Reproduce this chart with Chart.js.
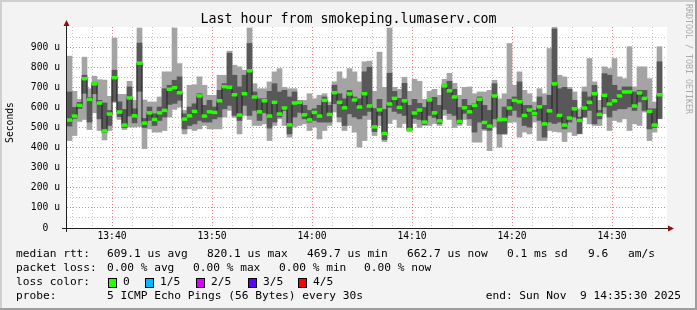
<!DOCTYPE html>
<html lang="en">
<head>
<meta charset="UTF-8">
<title>Last hour from smokeping.lumaserv.com</title>
<style>
  html, body { margin: 0; padding: 0; background: #f3f3f3; }
  canvas { display: block; }
</style>
</head>
<body>
<canvas id="chart" width="697" height="310"></canvas>
<script src="https://cdn.jsdelivr.net/npm/chart.js"></script>
<script>
// one entry per 30s step, starting at 13:35:30; 5 pings per step, values in microseconds
const startLabel = '13:35:30';
const stepMinutes = 0.5;

const median = [
  537, 557, 610, 743, 640, 717, 622, 483, 567, 748,
  577, 512, 647, 558, 820, 522, 573, 540, 573, 585,
  690, 698, 673, 542, 558, 580, 657, 557, 578, 575,
  633, 703, 700, 663, 562, 668, 782, 652, 578, 633,
  557, 625, 567, 597, 513, 622, 625, 563, 538, 575,
  557, 635, 565, 673, 625, 598, 667, 637, 602, 668,
  607, 503, 588, 470, 617, 645, 600, 633, 490, 572,
  587, 527, 637, 573, 533, 707, 683, 652, 530, 598,
  578, 610, 640, 525, 507, 657, 538, 540, 597, 635,
  628, 560, 587, 570, 603, 518, 583, 717, 560, 512,
  547, 593, 535, 597, 625, 668, 565, 660, 617, 633,
  657, 677, 677, 607, 672, 645, 580, 512, 663
];

// outer smoke: lowest and highest ping
const pingMin = [
  435, 460, 530, 540, 490, 573, 485, 438, 485, 625,
  540, 490, 502, 502, 505, 395, 493, 477, 477, 485,
  552, 590, 602, 468, 493, 485, 493, 510, 493, 493,
  493, 552, 585, 550, 468, 560, 540, 510, 510, 518,
  435, 510, 543, 510, 452, 502, 510, 518, 485, 502,
  443, 485, 510, 577, 527, 485, 510, 477, 402, 435,
  540, 460, 510, 430, 520, 540, 500, 520, 480, 520,
  500, 510, 510, 520, 510, 560, 540, 500, 510, 540,
  510, 427, 427, 485, 385, 502, 402, 465, 525, 527,
  452, 477, 468, 527, 435, 435, 485, 480, 477, 430,
  477, 460, 468, 550, 518, 510, 510, 568, 485, 535,
  527, 543, 485, 518, 510, 577, 435, 477, 543
];
const pingMax = [
  855, 680, 640, 850, 693, 755, 738, 736, 655, 945,
  665, 665, 730, 635, 995, 637, 627, 627, 652, 777,
  777, 995, 818, 585, 710, 713, 752, 710, 660, 660,
  760, 760, 880, 810, 802, 785, 995, 718, 693, 693,
  727, 777, 793, 700, 693, 693, 635, 635, 668, 643,
  660, 668, 627, 727, 777, 743, 793, 777, 727, 827,
  830, 680, 875, 700, 995, 700, 690, 750, 680, 740,
  730, 640, 680, 690, 660, 740, 770, 720, 660, 700,
  702, 668, 677, 677, 685, 735, 643, 668, 918, 710,
  777, 685, 668, 627, 693, 668, 893, 998, 760, 752,
  700, 677, 593, 702, 843, 727, 635, 802, 793, 843,
  752, 743, 902, 702, 802, 802, 743, 627, 902
];

// inner smoke: second lowest and second highest ping
const pingLow = [
  507, 545, 595, 670, 527, 668, 543, 475, 510, 630,
  554, 500, 557, 523, 680, 500, 535, 510, 535, 552,
  615, 620, 635, 493, 510, 518, 535, 527, 527, 543,
  552, 593, 610, 560, 535, 610, 560, 585, 535, 573,
  497, 527, 552, 585, 468, 552, 575, 543, 527, 535,
  527, 527, 527, 618, 552, 510, 568, 552, 543, 560,
  580, 480, 560, 440, 600, 580, 570, 560, 485, 545,
  540, 515, 560, 550, 520, 590, 570, 560, 520, 570,
  543, 477, 527, 493, 485, 543, 468, 470, 560, 585,
  552, 510, 502, 560, 535, 452, 527, 520, 527, 493,
  527, 552, 470, 552, 585, 518, 543, 602, 552, 585,
  593, 593, 602, 585, 627, 585, 493, 500, 545
];
const pingHigh = [
  677, 600, 625, 760, 650, 725, 635, 622, 585, 785,
  628, 590, 702, 593, 920, 545, 602, 568, 602, 693,
  710, 735, 752, 568, 602, 618, 668, 610, 635, 602,
  685, 718, 870, 760, 702, 760, 918, 677, 643, 643,
  680, 718, 677, 685, 652, 677, 632, 610, 585, 593,
  610, 652, 610, 710, 668, 643, 685, 652, 643, 777,
  800, 595, 640, 590, 770, 680, 645, 720, 610, 640,
  620, 600, 640, 650, 610, 715, 730, 690, 600, 640,
  610, 618, 652, 610, 585, 718, 543, 602, 640, 652,
  727, 610, 610, 585, 652, 610, 660, 990, 693, 700,
  690, 635, 552, 677, 652, 710, 585, 768, 760, 710,
  685, 702, 702, 677, 685, 685, 593, 593, 827
];

const xTickLabels = ['13:40', '13:50', '14:00', '14:10', '14:20', '14:30'];
const yTickLabels = ['0', '100 u', '200 u', '300 u', '400 u', '500 u', '600 u', '700 u', '800 u', '900 u'];

const lossColors = [['0', '#26ff00'], ['1/5', '#00b8ff'], ['2/5', '#dd00ff'], ['3/5', '#5e00ff'], ['4/5', '#ff0000']];

const MONO = '"DejaVu Sans Mono", monospace';
const GRID = 'rgba(140,140,140,0.5)';
const MGRID = 'rgba(225,45,45,0.6)';

const toMin = s => {
  const p = s.split(':').map(Number);
  return p[0] * 60 + p[1] + (p[2] || 0) / 60;
};
const xStart = toMin(startLabel);
const xEnd = xStart + 60;
const xAt = i => xStart + stepMinutes * (i + 0.5);

const gridMinutes = [];
for (let m = Math.ceil(xStart / 2) * 2; m < xEnd; m += 2) gridMinutes.push(m);
const majorMinutes = xTickLabels.map(toMin);

const smokeOuter = median.map((_, i) => ({ x: xAt(i), y: [pingMin[i], pingMax[i]] }));
const smokeInner = median.map((_, i) => ({ x: xAt(i), y: [pingLow[i], pingHigh[i]] }));
const medianLine = median.map((v, i) => ({ x: xAt(i), y: v }));
const lossMarks = median.map((v, i) => ({ x: xAt(i), y: [v - 7, v + 7] }));

const barBase = { grouped: false, barPercentage: 1, categoryPercentage: 1, borderWidth: 0 };

const rrdFrame = {
  id: 'rrdFrame',
  beforeDraw(chart) {
    const { ctx, chartArea: a } = chart;
    ctx.save();
    ctx.fillStyle = '#f3f3f3';
    ctx.fillRect(0, 0, chart.width, chart.height);
    ctx.fillStyle = '#ffffff';
    ctx.fillRect(a.left, a.top, a.right - a.left, a.bottom - a.top);
    ctx.restore();
  },
  afterDraw(chart) {
    const { ctx, chartArea: a } = chart;
    ctx.save();

    // axes
    ctx.strokeStyle = '#202020';
    ctx.lineWidth = 1;
    ctx.beginPath();
    ctx.moveTo(a.left - 5, a.bottom + 0.5);
    ctx.lineTo(a.right + 3, a.bottom + 0.5);
    ctx.moveTo(a.left - 0.5, a.bottom + 4);
    ctx.lineTo(a.left - 0.5, a.top - 3);
    ctx.stroke();

    ctx.fillStyle = '#8b1010';
    ctx.beginPath();
    ctx.moveTo(a.left - 0.5, a.top - 7);
    ctx.lineTo(a.left - 3.5, a.top - 1);
    ctx.lineTo(a.left + 2.5, a.top - 1);
    ctx.closePath();
    ctx.fill();
    ctx.beginPath();
    ctx.moveTo(a.right + 7, a.bottom + 0.5);
    ctx.lineTo(a.right + 1, a.bottom - 2.5);
    ctx.lineTo(a.right + 1, a.bottom + 3.5);
    ctx.closePath();
    ctx.fill();

    // title
    ctx.fillStyle = '#000';
    ctx.textBaseline = 'middle';
    ctx.textAlign = 'center';
    ctx.font = '13.3px ' + MONO;
    ctx.fillText('Last hour from smokeping.lumaserv.com', 348.5, 20);

    // vertical unit label
    ctx.save();
    ctx.translate(10.5, 122.5);
    ctx.rotate(-Math.PI / 2);
    ctx.font = '9.7px ' + MONO;
    ctx.fillText('Seconds', 0, 0);
    ctx.restore();

    // watermark
    ctx.save();
    ctx.translate(688, 4);
    ctx.rotate(Math.PI / 2);
    ctx.textAlign = 'left';
    ctx.fillStyle = '#ababab';
    ctx.font = '8.3px ' + MONO;
    ctx.fillText('RRDTOOL / TOBI OETIKER', 0, 0);
    ctx.restore();

    // legend
    ctx.textAlign = 'left';
    ctx.font = '11.2px ' + MONO;
    const row = (y, parts) => parts.forEach(([x, t]) => ctx.fillText(t, x, y));
    row(254, [[16, 'median rtt:'], [107, '609.1 us avg'], [207, '820.1 us max'], [307, '469.7 us min'],
      [407, '662.7 us now'], [507, '0.1 ms sd'], [588, '9.6'], [628, 'am/s']]);
    row(268, [[16, 'packet loss:'], [107, '0.00 % avg'], [193, '0.00 % max'], [279, '0.00 % min'], [364, '0.00 % now']]);
    row(282, [[16, 'loss color:']]);
    const boxX = [108, 145, 196, 248, 298];
    lossColors.forEach(([label, color], i) => {
      ctx.fillStyle = color;
      ctx.fillRect(boxX[i], 278, 8, 9);
      ctx.strokeStyle = '#000';
      ctx.strokeRect(boxX[i] + 0.5, 278.5, 8, 9);
      ctx.fillStyle = '#000';
      ctx.fillText(label, boxX[i] + 15, 282);
    });
    row(296, [[16, 'probe:'], [107, '5 ICMP Echo Pings (56 Bytes) every 30s']]);
    ctx.textAlign = 'right';
    ctx.fillText('end: Sun Nov  9 14:35:30 2025', 681, 296);

    // 3d frame
    ctx.fillStyle = '#cfcfcf';
    ctx.fillRect(0, 0, chart.width, 2);
    ctx.fillRect(0, 0, 2, chart.height);
    ctx.fillStyle = '#9e9e9e';
    ctx.fillRect(0, chart.height - 2, chart.width, 2);
    ctx.fillRect(chart.width - 2, 0, 2, chart.height);

    ctx.restore();
  }
};

new Chart(document.getElementById('chart'), {
  type: 'bar',
  data: {
    datasets: [
      { ...barBase, label: 'loss 0', data: lossMarks, backgroundColor: '#26ff00', order: 0 },
      { type: 'line', label: 'median', data: medianLine, stepped: 'middle', borderColor: '#202020',
        borderWidth: 1, pointRadius: 0, fill: false, order: 1 },
      { ...barBase, label: 'inner smoke', data: smokeInner, backgroundColor: '#585858', order: 2 },
      { ...barBase, label: 'outer smoke', data: smokeOuter, backgroundColor: '#a4a4a4', order: 3 }
    ]
  },
  options: {
    responsive: false,
    animation: false,
    events: [],
    layout: { padding: { left: 0, top: 27, right: 30, bottom: 0 } },
    plugins: { legend: { display: false }, tooltip: { enabled: false } },
    scales: {
      x: {
        type: 'linear',
        min: xStart,
        max: xEnd,
        offset: false,
        afterBuildTicks: s => { s.ticks = gridMinutes.map(v => ({ value: v })); },
        afterFit: s => { s.height = 82; },
        grid: {
          offset: false,
          drawTicks: false,
          color: ctx => majorMinutes.includes(ctx.tick.value) ? MGRID : GRID
        },
        border: { display: false, dash: [1, 2] },
        ticks: {
          autoSkip: false,
          maxRotation: 0,
          padding: 3,
          color: '#000',
          font: { family: MONO, size: 9.7 },
          callback: v => {
            const k = majorMinutes.indexOf(v);
            return k >= 0 ? xTickLabels[k] : '';
          }
        }
      },
      y: {
        min: 0,
        max: 1000,
        afterBuildTicks: s => {
          const t = [];
          for (let v = 0; v < 1000; v += 50) t.push({ value: v });
          s.ticks = t;
        },
        afterFit: s => { s.width = 67; },
        grid: {
          drawTicks: false,
          color: ctx => ctx.tick.value === 0 ? 'rgba(0,0,0,0)' : (ctx.tick.value % 100 === 0 ? MGRID : GRID)
        },
        border: { display: false, dash: [1, 2] },
        ticks: {
          autoSkip: false,
          crossAlign: 'center',
          padding: 7,
          color: '#000',
          font: { family: MONO, size: 9.7 },
          callback: v => v % 100 === 0 ? yTickLabels[v / 100] : ''
        }
      }
    }
  },
  plugins: [rrdFrame]
});
</script>
</body>
</html>
